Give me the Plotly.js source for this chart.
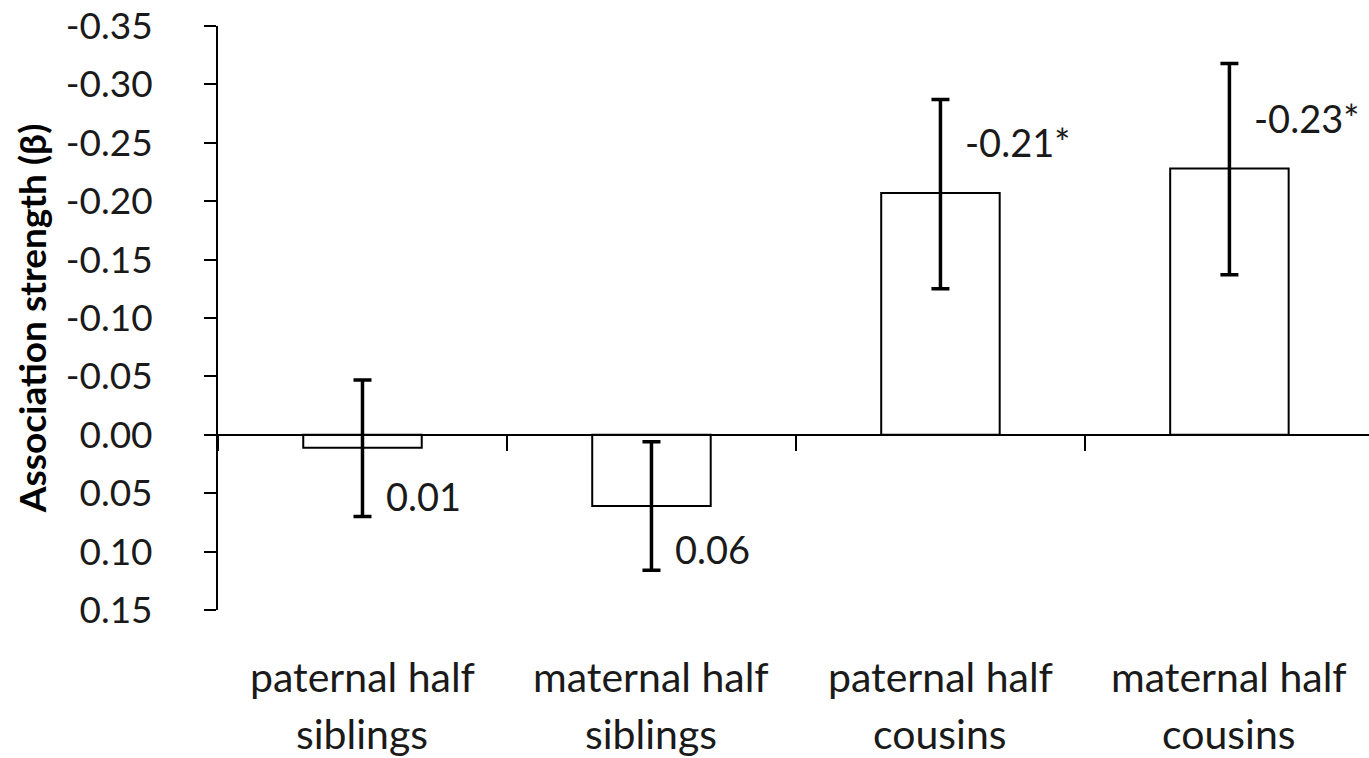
<!DOCTYPE html>
<html>
<head>
<meta charset="utf-8">
<script src="https://cdn.plot.ly/plotly-3.0.1.min.js"></script>
<style>
  html, body { margin: 0; padding: 0; background: #fff; overflow: hidden; }
  #chart { width: 1369px; height: 758px; }
</style>
</head>
<body>
<div id="chart"></div>
<script>
// ---- data ----
const categories = ["paternal half<br>siblings", "maternal half<br>siblings", "paternal half<br>cousins", "maternal half<br>cousins"];
const betaValues = [0.011, 0.061, -0.207, -0.228];
const errorPlus  = [0.059, 0.055, 0.082, 0.091];   // toward larger (downward) values
const errorMinus = [0.058, 0.055, 0.080, 0.090];   // toward smaller (upward) values
const valueLabels = ["0.01", "0.06", "-0.21*", "-0.23*"];
const yTickVals = [-0.35, -0.30, -0.25, -0.20, -0.15, -0.10, -0.05, 0.00, 0.05, 0.10, 0.15];
const yTickText = ["-0.35", "-0.30", "-0.25", "-0.20", "-0.15", "-0.10", "-0.05", "0.00", "0.05", "0.10", "0.15"];

const FONT = "Lato, 'Open Sans', sans-serif";

const trace = {
  type: "bar",
  x: categories,
  y: betaValues,
  width: 0.41,
  marker: { color: "#ffffff", line: { color: "#000000", width: 2 } },
  error_y: {
    type: "data",
    symmetric: false,
    array: errorPlus,
    arrayminus: errorMinus,
    color: "#000000",
    thickness: 3.5,
    width: 9
  },
  hoverinfo: "x+y",
  showlegend: false
};

const annotations = [];
categories.forEach((c, i) => {
  const v = betaValues[i];
  if (v >= 0) {
    annotations.push({
      x: c, xref: "x", y: v + errorPlus[i], yref: "y",
      text: valueLabels[i], showarrow: false,
      xanchor: "left", yanchor: "bottom", xshift: 22, yshift: -4,
      font: { family: FONT, size: 38, color: "#1a1a1a" }
    });
  } else {
    annotations.push({
      x: c, xref: "x", y: v, yref: "y",
      text: valueLabels[i], showarrow: false,
      xanchor: "left", yanchor: "middle", xshift: 23, yshift: 51,
      font: { family: FONT, size: 38, color: "#1a1a1a" }
    });
  }
  const lines = c.split("<br>");
  lines.forEach((t, k) => {
    annotations.push({
      x: c, xref: "x", y: 0, yref: "paper",
      text: t, showarrow: false,
      xanchor: "center", yanchor: "middle", yshift: -(66 + k * 57),
      font: { family: FONT, size: 41, color: "#1a1a1a" }
    });
  });
});

const layout = {
  width: 1369, height: 758,
  margin: { l: 218, r: 0, t: 26, b: 148 },
  paper_bgcolor: "#ffffff",
  plot_bgcolor: "#ffffff",
  font: { family: FONT, color: "#1a1a1a" },
  bargap: 0.59,
  xaxis: {
    type: "category",
    range: [-0.5, 3.483],
    anchor: "free",
    position: 0.3,
    showline: true, linecolor: "#000000", linewidth: 2,
    ticks: "outside", tickson: "boundaries", ticklen: 15, tickwidth: 2, tickcolor: "#000000",
    showticklabels: false,
    showgrid: false, zeroline: false,
    fixedrange: true
  },
  yaxis: {
    range: [0.15, -0.35],
    tickvals: yTickVals,
    ticktext: yTickText,
    ticks: "outside", ticklen: 12, tickwidth: 2, tickcolor: "#000000",
    ticklabelstandoff: 44,
    tickfont: { family: FONT, size: 37, color: "#1a1a1a" },
    showline: true, linecolor: "#000000", linewidth: 2,
    showgrid: false,
    zeroline: false,
    title: { text: "Association strength (β)", font: { family: FONT, size: 37, color: "#000000", weight: "bold" }, standoff: 8 },
    fixedrange: true
  },
  annotations: annotations
};

Plotly.newPlot("chart", [trace], layout, { displayModeBar: false, staticPlot: true });
</script>
</body>
</html>
